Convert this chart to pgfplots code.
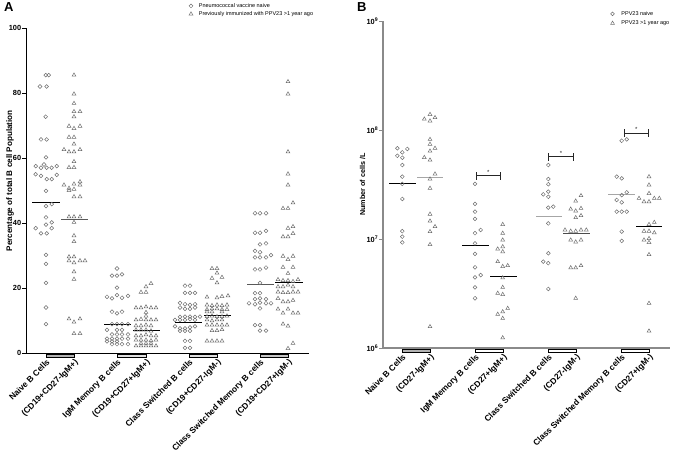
\documentclass[border=0pt]{standalone}
\usepackage{fontspec}
\setmainfont{Liberation Sans}
\usepackage{pgfplots}
\usepackage{pgfplotstable}
\pgfplotsset{compat=1.18}

\definecolor{mk}{HTML}{6E6E6E}
\definecolor{axb}{HTML}{8A8A8A}

% ---------- panel A: % of total B cells (x = position across the plot) ----------
\pgfplotstableread{
x y
45.7 85.5
48.7 85.5
40 82
46.7 82
45.7 72.7
41 65.7
46.7 65.7
46 60.2
35.7 57.5
41 57
44 58
46.7 57
51.7 57
56.7 57.5
35.7 55
41 54.5
46.7 53.5
51.7 53.5
56.7 54.8
46 49.9
46 45.2
51.7 45.8
46 41.7
46 39.5
51.7 40.2
35.7 38.4
41 36.8
46.7 36.8
51.7 38.4
46 30.2
46 27.4
46 21.6
46 14
46 8.9
117 26.0
112 23.8
117 23.8
122 24.2
117 20.1
107 17.3
112 16.8
117 17.8
122 17.0
128 17.6
112 12.7
117 12.2
122 12.7
112 8.9
117 8.9
122 8.9
128 8.9
107 7.1
117 7.1
122 7.1
112 5.7
117 5.7
122 5.7
128 5.7
107 4.4
112 4.4
117 4.4
122 4.4
128 4.4
107 3.6
112 3.6
117 3.6
112 2.7
117 2.7
122 2.7
128 2.7
185 20.7
190 20.7
185 18.5
190 18.5
195 18.5
180 15.4
185 15.0
190 14.8
195 15.0
180 14.0
185 13.6
190 13.6
195 14.0
180 11.1
185 11.2
190 11.2
195 11.1
200 11.2
175 10.2
180 10.2
185 10.2
190 10.4
195 10.2
175 8.2
180 7.6
185 7.6
190 7.9
195 8.2
180 6.8
185 6.8
190 6.8
185 3.7
190 3.7
185 1.6
190 1.6
255 43
260 43
266 43
255 37
260 37
266 37.6
260 33.4
266 33.7
255 31.4
260 31.0
255 29.4
260 29.4
266 29.4
271 30.1
255 25.7
260 25.7
266 26.3
260 21.6
255 18.4
260 18.4
255 16.6
260 16.8
266 16.6
249 15.3
255 15.0
260 15.5
266 15.3
271 15.3
260 13.7
255 8.6
260 8.6
260 6.9
266 6.9
}\naiveA

\pgfplotstableread{
x y
74 85.5
74 79.7
74 76.8
74 74.3
80 74.3
74 72.7
69 69.8
74 69.1
80 69.8
69 66.4
74 66.4
74 64.3
64 62.6
69 61.9
74 61.9
80 62.6
74 58.9
69 57.1
74 57.1
64 51.7
69 50.7
74 52.0
80 52.7
80 51.7
69 50.0
74 50.4
74 48.1
80 48.1
69 41.9
74 41.9
80 41.9
74 40.2
74 36.1
74 34.3
69 29.6
74 29.6
69 28.4
74 27.8
80 28.4
85 28.4
74 25
74 22.7
69 10.5
80 10.5
74 9.5
74 6
80 6
151 21.4
146 20.4
141 18.7
146 18.7
136 13.9
141 13.9
146 14.2
151 13.9
156 13.9
146 12.5
146 11.4
136 10.2
141 10.4
146 10.2
151 10.2
156 10.2
136 8.4
141 8.4
146 8.6
151 8.4
136 7.1
141 7.1
146 7.1
151 6.8
136 5.3
141 5.3
146 5.6
151 5.3
156 5.3
136 4.0
141 4.0
146 4.0
151 3.8
156 4.0
141 3.0
146 3.0
151 3.0
136 2.2
141 2.2
146 2.2
151 2.2
156 2.2
212 26
217 26
217 24.6
212 23
222 23.3
217 21.6
207 17.2
217 17.0
222 17.4
228 17.6
207 14.8
212 14.6
217 14.8
222 14.6
227 14.8
207 13.4
212 13.6
217 13.6
222 13.4
227 13.4
207 12.7
212 12.7
222 12.7
207 11.2
212 11.4
217 11.2
222 11.2
227 11.4
207 10.2
212 9.9
217 10.2
222 10.2
207 8.6
212 8.6
217 8.6
222 8.6
227 8.6
212 6.9
217 6.9
222 7.2
207 3.7
212 3.7
217 3.7
222 3.7
288 83.5
288 79.7
288 61.9
288 55.1
288 51.7
283 44.5
288 44.5
293 46.2
288 38.4
293 38.9
283 35.8
288 35.8
293 36.8
283 29.8
288 28.8
293 29.8
283 26.4
293 26.4
288 24.5
278 22.6
283 22.3
288 22.3
293 22.0
298 22.6
278 20.4
283 20.4
288 20.9
293 20.4
278 18.8
283 18.6
288 18.6
293 18.8
298 18.8
278 16.8
283 15.8
288 15.8
293 16.2
278 13.5
283 12.3
288 13.5
293 12.3
298 12.3
283 8.9
288 8.3
288 1.4
293 3.0
}\vaccA

% ---------- panel B: cells per litre ----------
\pgfplotstableread{
x y
397.3 6.8e7
402.3 6.24e7
407.3 6.7e7
397.3 5.8e7
402.3 5.57e7
402.3 4.77e7
402.3 3.73e7
402.3 3.2e7
402.3 2.33e7
402.3 1.18e7
402.3 1.05e7
402.3 9.3e6
475 3.2e7
475 2.1e7
475 1.78e7
475 1.53e7
475 1.13e7
480.7 1.21e7
475 9.1e6
475 7.3e6
475 5.5e6
475 4.45e6
480.7 4.67e6
475 3.6e6
475 2.86e6
548.3 4.77e7
548.3 3.55e7
548.3 3.18e7
548.3 2.72e7
543.3 2.57e7
548.3 2.44e7
548.3 1.94e7
553.3 1.98e7
548.3 1.39e7
548.3 7.4e6
543.3 6.2e6
548.3 6.0e6
548.3 3.48e6
621.7 7.97e7
626.7 8.2e7
616.7 3.73e7
621.7 3.6e7
626.7 2.68e7
621.7 2.53e7
616.7 2.28e7
621.7 2.17e7
616.7 1.78e7
621.7 1.78e7
626.7 1.78e7
621.7 1.17e7
621.7 9.6e6
}\naiveB

\pgfplotstableread{
x y
430 1.39e8
424.3 1.26e8
430 1.21e8
435 1.30e8
430 8.2e7
430 7.4e7
430 6.4e7
435 6.8e7
424.3 5.6e7
430 5.3e7
435 3.95e7
430 3.55e7
430 2.92e7
430 1.69e7
430 1.46e7
435 1.30e7
430 1.17e7
430 8.9e6
430 1.57e6
502.7 1.36e7
502.7 1.13e7
502.7 9.8e6
497.7 8.1e6
502.7 8.5e6
502.7 7.65e6
497.7 6.2e6
502.7 5.6e6
507.7 5.7e6
502.7 4.4e6
502.7 3.6e6
497.7 3.18e6
502.7 3.1e6
497.7 2.04e6
502.7 2.15e6
507.7 2.31e6
502.7 1.87e6
502.7 1.24e6
581 2.5e7
575.7 2.23e7
570.7 1.88e7
575.7 1.81e7
581 1.91e7
575.7 1.57e7
581 1.64e7
565 1.21e7
570.7 1.18e7
575.7 1.18e7
581 1.21e7
586.3 1.21e7
570.7 9.8e6
575.7 9.4e6
581 9.8e6
570.7 5.45e6
575.7 5.45e6
581 5.7e6
575.7 2.86e6
649 3.73e7
649 3.13e7
649 2.62e7
639 2.36e7
644 2.2e7
649 2.2e7
654.3 2.36e7
659.3 2.36e7
649 1.36e7
654.3 1.42e7
644 1.18e7
649 1.18e7
654.3 1.14e7
644 9.8e6
649 1.01e7
649 9.3e6
649 7.2e6
649 2.57e6
649 1.43e6
}\vaccB

\tikzset{bar/.style={line width=0.6pt, fill=#1}}
\pgfplotsset{
  dotplot/.style={
    scale only axis, clip=false,
    axis x line=bottom, axis y line=left,
    axis line style={-, line width=0.8pt},
    tick align=outside, major tick length=4pt,
    tick style={line width=0.8pt, black},
    /pgf/number format/assume math mode=true,
    ticklabel style={font=\bfseries\fontsize{7.4}{8}\selectfont},
    y tick label style={inner xsep=0.6pt},
    x tick label style={rotate=45, anchor=north east, inner sep=1pt,
      font=\bfseries\fontsize{8.4}{9}\selectfont},
    ylabel style={font=\bfseries\fontsize{7.2}{8}\selectfont, anchor=center},
    legend style={draw=none, fill=none, font=\fontsize{5.5}{6}\selectfont,
      anchor=north west, nodes={inner sep=1pt}, row sep=0.5pt,
      /tikz/every odd column/.append style={column sep=5pt}},
    legend cell align=left,
  },
  nv/.style={only marks, mark=o, mark size=1.9pt,
    mark options={draw=mk, line width=0.5pt}},
  vc/.style={only marks, mark=triangle, mark size=2.2pt,
    mark options={draw=mk, line width=0.5pt}},
  med/.style={black, line width=0.9pt, forget plot},
}

\begin{document}
\begin{tikzpicture}
\path[use as bounding box] (0pt,0pt) rectangle (685pt,453pt);
\node[anchor=north west, inner sep=0pt, font=\bfseries\fontsize{13}{13}\selectfont] at (4pt,451pt) {A};
\node[anchor=north west, inner sep=0pt, font=\bfseries\fontsize{13}{13}\selectfont] at (357pt,451pt) {B};

% ---- A ----
\begin{axis}[dotplot,
  at={(26pt,100pt)}, anchor=south west,
  width=283pt, height=325pt,
  xmin=26, xmax=309, ymin=0, ymax=100,
  ytick={0,20,40,60,80,100},
  xtick={46,74,117,146,189,217,260,288},
  xticklabels={Naive B Cells,(CD19+CD27-IgM+),IgM Memory B cells,(CD19+CD27+IgM+),Class Switched B cells,(CD19+CD27-IgM-),Class Switched Memory B cells,(CD19+CD27+IgM-)},
  ylabel={Percentage of total B cell Population},
  ylabel style={at={(axis description cs:-0.056,0.53)}, font=\bfseries\fontsize{8.1}{9}\selectfont},
  legend style={at={(axis description cs:0.565,1.086)}},
]
\addplot[nv] table {\naiveA};
\addplot[vc] table {\vaccA};
\legend{Pneumococcal vaccine naive, Previously immunized with PPV23 >1 year ago}
\addplot[med] coordinates {(32,46.4) (60,46.4)};
\addplot[med, gray!70!black] coordinates {(61,41.2) (88,41.2)};
\addplot[med] coordinates {(104,8.8) (131,8.8)};
\addplot[med] coordinates {(133,6.8) (160,6.8)};
\addplot[med] coordinates {(175,9.4) (202,9.4)};
\addplot[med] coordinates {(204,11.5) (231,11.5)};
\addplot[med, gray!70!black] coordinates {(247,21.1) (274,21.1)};
\addplot[med] coordinates {(275,21.8) (303,21.8)};
\draw[bar=gray!60] ([yshift=-1.5pt]axis cs:46,0) rectangle ([yshift=-4pt]axis cs:74,0);
\draw[bar=gray!25] ([yshift=-1.5pt]axis cs:117,0) rectangle ([yshift=-4pt]axis cs:146,0);
\draw[bar=gray!25] ([yshift=-1.5pt]axis cs:189,0) rectangle ([yshift=-4pt]axis cs:217,0);
\draw[bar=gray!45] ([yshift=-1.5pt]axis cs:260,0) rectangle ([yshift=-4pt]axis cs:288,0);
\end{axis}

% ---- B ----
\begin{axis}[dotplot,
  at={(383pt,105pt)}, anchor=south west,
  width=287pt, height=327pt,
  ymode=log,
  xmin=383, xmax=670, ymin=1e6, ymax=1e9,
  axis line style={-, line width=1.2pt, axb},
  ytick={1e6,1e7,1e8,1e9}, yminorticks=false,
  yticklabels={10\textsuperscript{6},10\textsuperscript{7},10\textsuperscript{8},10\textsuperscript{9}},
  y tick style={axb},
  xtick={402,430,475,503,548,576,621,649},
  xticklabels={Naive B Cells,(CD27-IgM+),IgM Memory B cells,(CD27+IgM+),Class Switched B cells,(CD27-IgM-),Class Switched Memory B cells,(CD27+IgM-)},
  ylabel={Number of cells /L},
  ylabel style={at={(axis description cs:-0.071,0.5)}},
  legend style={at={(axis description cs:0.782,1.04)}, row sep=2pt,
    /tikz/every odd column/.append style={column sep=6pt}},
]
\addplot[nv] table {\naiveB};
\addplot[vc] table {\vaccB};
\legend{PPV23 naive, PPV23 >1 year ago}
\addplot[med] coordinates {(389,3.24e7) (416,3.24e7)};
\addplot[med, gray!70] coordinates {(417,3.65e7) (443,3.65e7)};
\addplot[med] coordinates {(462,8.8e6) (489,8.8e6)};
\addplot[med] coordinates {(490,4.5e6) (517,4.5e6)};
\addplot[med, gray!70] coordinates {(536,1.6e7) (562,1.6e7)};
\addplot[med, gray!60!black] coordinates {(563,1.13e7) (590,1.13e7)};
\addplot[med, gray!70] coordinates {(608,2.56e7) (635,2.56e7)};
\addplot[med] coordinates {(636,1.3e7) (662,1.3e7)};
\draw[|-|, line width=1pt, black!85] (axis cs:475.7,3.81e7) -- (axis cs:501,3.81e7)
  node[midway, above, inner sep=0.8pt, font=\fontsize{6}{6}\selectfont] {*};
\draw[|-|, line width=1pt, black!85] (axis cs:548.3,5.69e7) -- (axis cs:574,5.69e7)
  node[midway, above, inner sep=0.8pt, font=\fontsize{6}{6}\selectfont] {*};
\draw[|-|, line width=1pt, black!85] (axis cs:623.7,9.33e7) -- (axis cs:649,9.33e7)
  node[midway, above, inner sep=0.8pt, font=\fontsize{6}{6}\selectfont] {*};
\draw[bar=gray!60] ([yshift=-1.5pt]axis cs:402,1e6) rectangle ([yshift=-4pt]axis cs:430,1e6);
\draw[bar=white] ([yshift=-1.5pt]axis cs:475,1e6) rectangle ([yshift=-4pt]axis cs:503,1e6);
\draw[bar=white] ([yshift=-1.5pt]axis cs:548,1e6) rectangle ([yshift=-4pt]axis cs:576,1e6);
\draw[bar=white] ([yshift=-1.5pt]axis cs:621,1e6) rectangle ([yshift=-4pt]axis cs:649,1e6);
\end{axis}
\end{tikzpicture}
\end{document}
